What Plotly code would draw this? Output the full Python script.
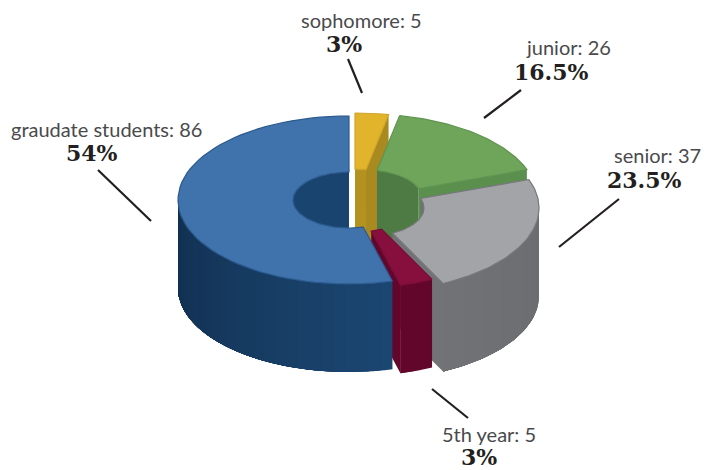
import math
import plotly.graph_objects as go

# ---- chart data ----
categories = ["sophomore", "junior", "senior", "5th year", "graudate students"]
counts = [5, 26, 37, 5, 86]
percent_labels = ["3%", "16.5%", "23.5%", "3%", "54%"]

# ---- styles / layout ----
centers = [(355, 197), (366, 198), (368, 208), (357, 204), (349, 200)]
top_colors = ["#e1b42c", "#6ea55a", "#a3a4a7", "#860f3e", "#4072ab"]
edge_colors = ["#d0a52a", "#5f9450", "#77787b", "#7a0c38", "#2b5a8f"]
cut_colors = ["#a98a20", "#5a8f4e", "#727376", "#63062c", "#1a4470"]
inner_colors = ["#b3921f", "#4e7b43", "#6f7073", "#63062c", "#1a4470"]
wall_left = ["#a98a20", "#4e7b43", "#717275", "#63062c", "#112f50"]
wall_right = ["#a98a20", "#4e7b43", "#6b6c6f", "#63062c", "#1b4671"]
label_pos = [(361, 20), (568, 47), (657, 155), (489, 434), (106, 129)]
pct_pos = [(344, 44), (551, 72), (644, 180), (479, 457), (92, 153)]
leaders = [((348, 59), (362, 93)), ((521, 90), (484, 118)), ((619, 199), (559, 247)),
           ((432, 389), (468, 418)), ((98, 170), (151, 221))]
RX, RY, HX, HY, DEPTH = 171, 84, 56, 28, 88

fig = go.Figure()


def poly(xs, ys, color, line=None, lw=1):
    fig.add_trace(go.Scatter(x=xs + xs[:1], y=ys + ys[:1], mode="lines", fill="toself",
                             fillcolor=color, line=dict(color=line or color, width=lw),
                             hoverinfo="skip", showlegend=False))


def arc(c, rx, ry, a0, a1, dz=0, n=60):
    pts = [a0 + (a1 - a0) * i / n for i in range(n + 1)]
    return ([c[0] + rx * math.sin(math.radians(a)) for a in pts],
            [c[1] - ry * math.cos(math.radians(a)) + dz for a in pts])


def mix(c1, c2, t):
    a = [int(c1[i:i + 2], 16) for i in (1, 3, 5)]
    b = [int(c2[i:i + 2], 16) for i in (1, 3, 5)]
    return "#%02x%02x%02x" % tuple(round(p + (q - p) * t) for p, q in zip(a, b))


def cut_face(c, a, color):
    xi, yi = arc(c, HX, HY, a, a, n=1)
    xo, yo = arc(c, RX, RY, a, a, n=1)
    poly([xi[0], xo[0], xo[0], xi[0]], [yi[0], yo[0], yo[0] + DEPTH, yi[0] + DEPTH], color, lw=0)


total = sum(counts)
angle = 0.0
for i, value in enumerate(counts):
    a0, a1 = angle, angle + value / total * 360
    angle = a1
    c = centers[i]

    # far side of the hole (faces the viewer for angles below 90 or above 270)
    for lo, hi in ((a0, min(a1, 90)), (max(a0, 270), a1)):
        if hi > lo:
            x1, y1 = arc(c, HX, HY, lo, hi)
            poly(x1 + x1[::-1], y1 + [y + DEPTH for y in y1[::-1]], inner_colors[i], lw=0)

    # cut faces turned toward the viewer
    if a0 < 180:
        cut_face(c, a1, cut_colors[i])

    # front outer wall, overlapping strips for the shading
    lo, hi = max(a0, 90), min(a1, 270)
    if hi > lo:
        steps = max(2, int((hi - lo) / 4))
        for s in range(steps):
            b0 = lo + (hi - lo) * s / steps
            x1, y1 = arc(c, RX, RY, b0, hi, n=40)
            col = mix(wall_right[i], wall_left[i], s / max(1, steps - 1))
            poly(x1 + x1[::-1], y1 + [y + DEPTH for y in y1[::-1]], col, lw=0)

    # top surface
    xo, yo = arc(c, RX, RY, a0, a1)
    xi, yi = arc(c, HX, HY, a0, a1)
    poly(xo + xi[::-1], yo + yi[::-1], top_colors[i], line=edge_colors[i], lw=1.2)

for name, value, pos in zip(categories, counts, label_pos):
    fig.add_annotation(x=pos[0], y=pos[1], text=f"{name}: {value}", showarrow=False,
                       font=dict(family="Lato", size=20, color="#4a4a4c"),
                       xanchor="center", yanchor="middle")
for pct, pos in zip(percent_labels, pct_pos):
    fig.add_annotation(x=pos[0], y=pos[1], text=f"<b>{pct}</b>", showarrow=False,
                       font=dict(family="DejaVu Serif", size=22, color="#231f20"),
                       xanchor="center", yanchor="middle")
for (p, q) in leaders:
    fig.add_trace(go.Scatter(x=[p[0], q[0]], y=[p[1], q[1]], mode="lines",
                             line=dict(color="#231f20", width=2.2),
                             hoverinfo="skip", showlegend=False))

fig.update_layout(width=704, height=470, margin=dict(l=0, r=0, t=0, b=0),
                  paper_bgcolor="white", plot_bgcolor="white",
                  xaxis=dict(range=[0, 704], visible=False, fixedrange=True),
                  yaxis=dict(range=[470, 0], visible=False, fixedrange=True))
fig.write_html("out.html", config={"displayModeBar": False},
               post_script="document.body.style.margin='0';document.documentElement.style.overflow='hidden';")
